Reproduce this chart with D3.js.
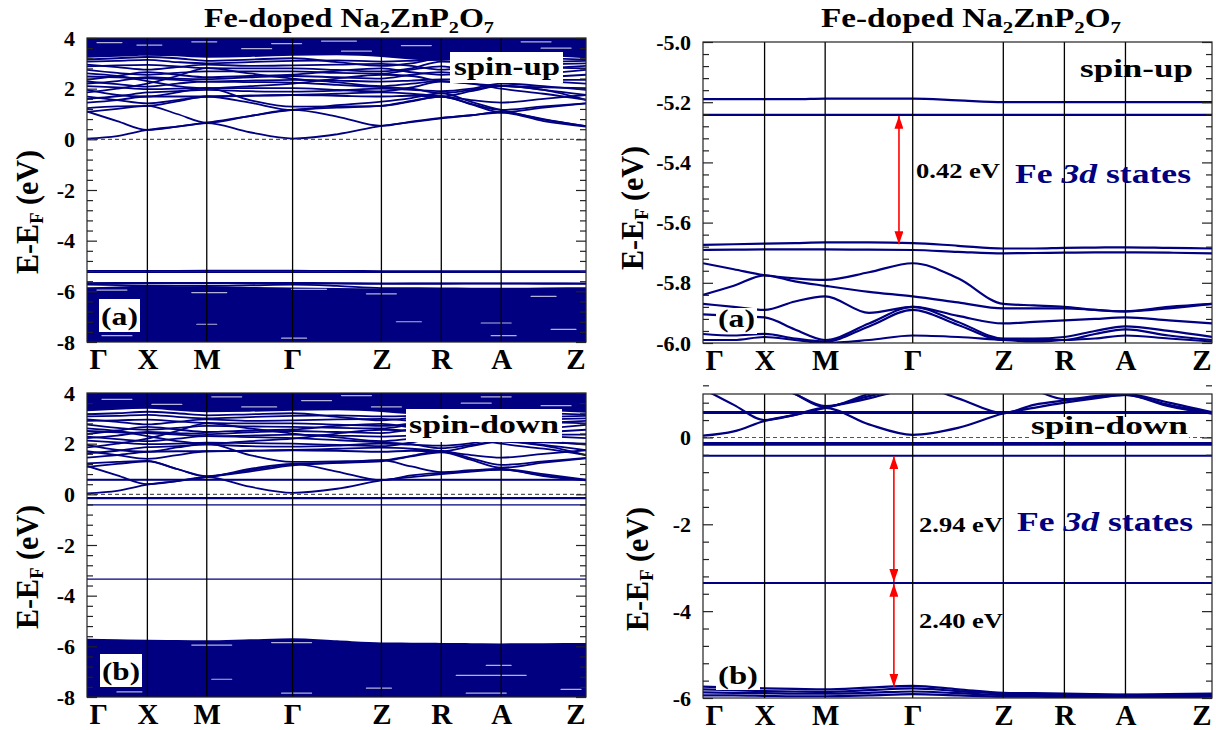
<!DOCTYPE html>
<html><head><meta charset="utf-8">
<script src="https://cdn.jsdelivr.net/npm/d3@7"></script>
<style>
body{margin:0;background:#fff}
svg{display:block}
text{font-family:"Liberation Serif","Times New Roman",serif;font-weight:bold}
</style>
</head><body>
<svg id="c" width="1216" height="730"></svg>
<script>
// ---------- k-path ----------
const kLabels = ["Γ","X","M","Γ","Z","R","A","Z"];
const kPos = [0, 0.121, 0.240, 0.412, 0.590, 0.710, 0.830, 1.0];

// ---------- y-axis ticks ----------
const yTicksWide = [-8,-6,-4,-2,0,2,4];
const yTicksUpZoom = [-6.0,-5.8,-5.6,-5.4,-5.2,-5.0];
const yTicksDnZoom = [-6,-4,-2,0];

// ---------- band energies (eV), sampled at Γ, ½, X, ½, M, ½, Γ, ½, Z, ½, R, ½, A, ½, Z ----------
const cbUp = [
 [0.03,0.13,0.37,0.50,0.64,0.28,0.03,0.20,0.53,0.68,0.83,0.95,1.06,0.72,0.50],
 [1.10,0.72,0.37,0.50,0.66,0.92,1.16,1.25,1.32,1.52,1.69,1.38,1.06,1.25,1.42],
 [1.23,1.30,1.32,1.50,1.69,1.45,1.16,1.35,1.49,1.63,1.82,1.48,1.16,0.80,0.52],
 [1.69,1.55,1.42,1.55,1.69,1.72,1.75,1.72,1.69,1.72,1.69,1.90,2.11,1.95,1.56],
 [1.95,1.75,1.69,1.85,2.02,1.55,1.29,1.30,1.32,1.50,1.69,1.40,1.16,1.30,1.42],
 [2.10,2.05,1.98,2.00,2.02,2.02,2.02,1.95,1.89,2.05,2.28,2.20,2.11,2.05,2.02],
 [2.28,2.18,2.08,2.20,2.28,2.26,2.24,2.15,2.06,2.00,1.82,1.95,2.11,1.95,1.75],
 [2.48,2.45,2.41,2.35,2.28,2.32,2.35,2.32,2.28,2.32,2.37,2.36,2.35,2.35,2.35],
 [2.74,2.62,2.55,2.62,2.68,2.68,2.68,2.62,2.59,2.75,2.88,2.70,2.50,2.60,2.74],
 [2.88,2.92,2.94,2.88,2.81,2.80,2.80,2.74,2.68,2.80,3.07,3.00,2.90,2.95,3.00],
 [3.07,3.10,3.14,3.05,3.00,3.05,3.10,3.12,3.07,3.10,3.15,3.20,3.25,3.20,3.15],
 [1.45,1.55,1.69,1.69,1.69,1.72,1.75,1.80,1.85,1.80,1.69,1.55,1.45,1.60,1.75],
 [1.85,2.00,2.20,2.50,2.81,2.60,2.40,2.25,2.10,2.20,2.30,2.20,2.00,1.80,1.56],
 [2.60,2.50,2.30,2.10,2.02,2.10,2.20,2.40,2.55,2.50,2.30,2.25,2.35,2.45,2.55],
 [1.08,1.20,1.32,1.00,0.66,0.92,1.16,0.90,0.53,0.70,0.85,0.95,1.08,0.78,0.52],
 [2.35,2.50,2.65,2.55,2.45,2.50,2.55,2.70,2.80,2.65,2.55,2.60,2.70,2.80,2.90],
 [2.95,2.85,2.75,2.85,2.95,2.90,2.92,2.95,2.98,2.90,2.75,2.85,2.95,2.85,2.80],
 [3.15,3.20,3.25,3.20,3.10,3.15,3.20,3.05,2.90,3.00,3.20,3.10,3.00,3.05,3.10],
 [2.20,2.30,2.45,2.40,2.38,2.45,2.50,2.45,2.40,2.55,2.65,2.50,2.40,2.30,2.20],
 [1.60,1.70,1.85,1.90,1.95,1.90,1.88,1.92,2.00,1.95,1.90,2.00,2.20,2.10,1.95]
];
const cbDn = [
 [0.04,0.14,0.38,0.52,0.68,0.30,0.06,0.22,0.55,0.68,0.80,0.90,0.98,0.72,0.55],
 [1.12,0.75,0.40,0.52,0.68,0.90,1.14,1.24,1.30,1.50,1.66,1.36,1.05,1.25,1.42],
 [1.22,1.28,1.32,1.00,0.70,1.00,1.20,0.90,0.56,0.75,0.85,0.92,0.98,0.75,0.56],
 [1.70,1.55,1.40,1.55,1.70,1.72,1.74,1.72,1.68,1.72,1.70,1.90,2.08,1.92,1.55],
 [1.95,1.75,1.68,1.85,2.00,1.55,1.28,1.30,1.34,1.52,1.70,1.42,1.16,1.30,1.44],
 [2.12,2.05,1.98,2.00,2.04,2.02,2.00,1.95,1.90,2.05,2.26,2.20,2.10,2.05,2.00],
 [2.28,2.18,2.10,2.20,2.30,2.26,2.22,2.14,2.05,1.98,1.82,1.95,2.10,1.95,1.74],
 [2.50,2.45,2.42,2.36,2.30,2.32,2.36,2.32,2.28,2.32,2.38,2.36,2.34,2.35,2.36],
 [2.75,2.62,2.55,2.62,2.70,2.68,2.66,2.62,2.60,2.75,2.86,2.70,2.50,2.60,2.74],
 [2.90,2.92,2.95,2.88,2.82,2.80,2.80,2.75,2.70,2.80,3.05,3.00,2.90,2.95,3.00],
 [3.08,3.10,3.14,3.06,3.00,3.05,3.10,3.12,3.08,3.10,3.15,3.20,3.25,3.20,3.15],
 [1.45,1.55,1.68,1.70,1.70,1.72,1.75,1.80,1.84,1.80,1.70,1.55,1.45,1.60,1.74],
 [1.85,2.00,2.20,2.50,2.80,2.60,2.40,2.25,2.10,2.20,2.30,2.20,2.00,1.80,1.55],
 [2.60,2.50,2.30,2.10,2.00,2.10,2.20,2.40,2.55,2.50,2.30,2.25,2.35,2.45,2.55],
 [1.08,1.20,1.30,1.00,0.72,0.95,1.18,1.25,1.35,1.10,0.88,0.95,1.00,0.80,0.58],
 [2.38,2.52,2.66,2.56,2.46,2.52,2.56,2.70,2.78,2.64,2.55,2.62,2.72,2.82,2.90],
 [2.96,2.86,2.76,2.86,2.96,2.90,2.92,2.96,2.98,2.90,2.76,2.86,2.96,2.86,2.80],
 [3.16,3.20,3.26,3.20,3.12,3.16,3.20,3.06,2.92,3.02,3.20,3.10,3.02,3.06,3.10],
 [2.22,2.32,2.46,2.42,2.38,2.45,2.50,2.46,2.42,2.56,2.66,2.52,2.40,2.30,2.22],
 [1.62,1.72,1.86,1.90,1.96,1.90,1.88,1.92,2.00,1.96,1.92,2.02,2.20,2.10,1.96]
];
const vbUp = [
 [-5.735,-5.755,-5.775,-5.785,-5.790,-5.765,-5.735,-5.785,-5.870,-5.875,-5.880,-5.890,-5.895,-5.885,-5.870],
 [-5.840,-5.810,-5.775,-5.795,-5.810,-5.830,-5.845,-5.865,-5.885,-5.885,-5.885,-5.890,-5.895,-5.880,-5.870],
 [-5.870,-5.880,-5.890,-5.862,-5.845,-5.900,-5.880,-5.910,-5.935,-5.930,-5.925,-5.920,-5.915,-5.925,-5.935],
 [-5.905,-5.910,-5.915,-5.955,-5.990,-5.935,-5.880,-5.930,-5.985,-5.985,-5.980,-5.960,-5.945,-5.960,-5.980],
 [-5.970,-5.975,-5.970,-5.985,-5.995,-5.945,-5.890,-5.940,-5.990,-5.990,-5.990,-5.970,-5.955,-5.975,-5.990],
 [-5.990,-5.990,-5.980,-5.990,-6.000,-5.990,-5.975,-5.980,-5.990,-5.995,-5.990,-5.985,-5.975,-5.985,-5.995]
];
const vbDn = [
 [-5.74,-5.76,-5.78,-5.79,-5.80,-5.76,-5.72,-5.80,-5.88,-5.89,-5.90,-5.91,-5.92,-5.91,-5.90],
 [-5.80,-5.82,-5.84,-5.85,-5.86,-5.82,-5.78,-5.84,-5.90,-5.91,-5.92,-5.93,-5.93,-5.93,-5.92],
 [-5.87,-5.88,-5.89,-5.90,-5.90,-5.88,-5.85,-5.89,-5.93,-5.94,-5.94,-5.95,-5.95,-5.95,-5.94],
 [-5.94,-5.94,-5.95,-5.96,-5.96,-5.94,-5.91,-5.94,-5.97,-5.97,-5.98,-5.98,-5.98,-5.98,-5.97]
];
// Fe 3d states
const feUp = [
 [-5.190,-5.190,-5.190,-5.190,-5.188,-5.188,-5.188,-5.194,-5.200,-5.200,-5.200,-5.200,-5.200,-5.200,-5.200],
 [-5.242,-5.242,-5.242,-5.242,-5.242,-5.242,-5.242,-5.242,-5.242,-5.242,-5.242,-5.242,-5.242,-5.242,-5.242],
 [-5.674,-5.672,-5.670,-5.668,-5.666,-5.666,-5.668,-5.677,-5.686,-5.686,-5.684,-5.683,-5.682,-5.684,-5.686],
 [-5.691,-5.690,-5.689,-5.689,-5.689,-5.690,-5.691,-5.697,-5.702,-5.701,-5.700,-5.699,-5.699,-5.700,-5.702]
];
const feDn = [0.56, 0.585, -0.13, -0.17, -0.42, -3.35];
// upper edge of the dense conduction manifold
const topEdgeUp = [3.22,3.26,3.30,3.28,3.22,3.25,3.30,3.32,3.25,3.15,3.10,3.20,3.35,3.30,3.20];
const topEdgeDn = [3.28,3.34,3.38,3.30,3.24,3.26,3.30,3.32,3.25,3.16,3.12,3.22,3.35,3.30,3.22];
// light gaps inside dense manifolds: [k start, k end, energy]
const gapsUp = [
 [0.02,0.07,3.82],[0.10,0.15,3.72],[0.21,0.26,3.85],[0.31,0.37,3.58],[0.37,0.43,3.78],[0.47,0.54,3.88],
 [0.51,0.57,3.48],[0.63,0.69,3.70],[0.87,0.93,3.85],[0.91,0.97,3.60],
 [0.02,0.08,-5.95],[0.21,0.28,-6.05],[0.41,0.48,-5.92],[0.56,0.62,-6.10],
 [0.03,0.09,-7.75],[0.22,0.26,-7.30],[0.39,0.44,-7.85],[0.62,0.67,-7.20],[0.79,0.85,-7.25],
 [0.81,0.86,-7.75],[0.93,0.98,-7.50],[0.89,0.94,-6.20]
];
const gapsDn = [
 [0.03,0.09,3.75],[0.13,0.19,3.55],[0.25,0.31,3.85],[0.31,0.38,3.45],[0.43,0.49,3.70],[0.51,0.57,3.90],
 [0.57,0.63,3.45],[0.75,0.81,3.60],[0.79,0.85,3.85],[0.91,0.97,3.50],
 [0.21,0.29,-5.95],[0.37,0.45,-5.85],[0.25,0.29,-7.30],[0.74,0.88,-7.15],
 [0.56,0.61,-7.65],[0.39,0.45,-7.85],[0.76,0.84,-7.85],[0.80,0.85,-6.75],[0.95,0.99,-7.70],[0.06,0.11,-7.80]
];
// energy gaps marked with arrows
const arrowsUp = [[-5.245,-5.672]];
const arrowsDn = [[-0.43,-3.33],[-3.37,-5.74]];
const gapLabelsUp = ["0.42 eV"];
const gapLabelsDn = ["2.94 eV","2.40 eV"];

// ---------- drawing ----------
const navy = "#000080";
const svg = d3.select("#c");
const defs = svg.append("defs");
defs.append("marker").attr("id","ah").attr("viewBox","0 0 10 10").attr("refX",10).attr("refY",5)
  .attr("markerUnits","userSpaceOnUse").attr("markerWidth",13).attr("markerHeight",9)
  .attr("preserveAspectRatio","none").attr("orient","auto-start-reverse")
  .append("path").attr("d","M0,0L10,5L0,10Z").attr("fill","#ff0000");

const kS = [];
kPos.forEach((k,i)=>{ if(i>0) kS.push((kPos[i-1]+k)/2); kS.push(k); });

const spins = {
  up:{cb:cbUp, vb:vbUp, fe:feUp, flat:[], edge:topEdgeUp, gaps:gapsUp, arrows:arrowsUp, alabels:gapLabelsUp, fillBand:1},
  dn:{cb:cbDn, vb:vbDn, fe:[], flat:feDn, edge:topEdgeDn, gaps:gapsDn, arrows:arrowsDn, alabels:gapLabelsDn, fillBand:0}
};

const panels = [
 {x0:87,x1:586,y0:38,y1:342,dom:[-8,4],ticks:yTicksWide,minor:0.4,fmt:d=>String(d),spin:"up",wide:true,lw:1.8,
  title:{x:349,y:27,len:290}, ylab:{x:38,y:212},
  labels:[{t:"spin-up",x:454,y:75,len:106,box:[450,52,113,31]},{t:"(a)",x:101,y:325,len:37,box:[99,299,41,33]}]},
 {x0:87,x1:586,y0:393,y1:697,dom:[-8,4],ticks:yTicksWide,minor:0.4,fmt:d=>String(d),spin:"dn",wide:true,lw:1.8,
  ylab:{x:38,y:567},
  labels:[{t:"spin-down",x:409,y:433,len:150,box:[406,409,156,33]},{t:"(b)",x:102,y:680,len:38,box:[100,654,42,33]}]},
 {x0:703,x1:1212,y0:42,y1:343,dom:[-6,-5],ticks:yTicksUpZoom,minor:0.04,fmt:d=>d.toFixed(1),spin:"up",wide:false,lw:2.2,
  title:{x:971,y:27,len:300}, ylab:{x:643,y:208}, arrowK:0.385,
  alabelPos:[{x:916,y:178}], fe:{x:1015,y:183},
  labels:[{t:"spin-up",x:1080,y:77,len:113,box:null},{t:"(a)",x:718,y:327,len:37,box:[716,308,41,26]}]},
 {x0:703,x1:1212,y0:394,y1:698,dom:[-6,1],ticks:yTicksDnZoom,minor:0.4,fmt:d=>String(d),spin:"dn",wide:false,lw:2.2,
  ylab:{x:648,y:569}, arrowK:0.375,
  alabelPos:[{x:919,y:532},{x:919,y:628}], fe:{x:1017,y:531},
  labels:[{t:"spin-down",x:1031,y:434,len:157,box:[1029,417,160,24]},{t:"(b)",x:718,y:684,len:40,box:[716,665,44,25]}]}
];

function sty(sel){ sel.attr("font-family",null).attr("font-size",null); return sel; }

panels.forEach((p,pi)=>{
  const S = spins[p.spin];
  const x = d3.scaleLinear().domain([0,1]).range([p.x0,p.x1]);
  const y = d3.scaleLinear().domain(p.dom).range([p.y1,p.y0]);
  const g = svg.append("g");
  defs.append("clipPath").attr("id","cl"+pi).append("rect")
    .attr("x",p.x0).attr("y",p.y0).attr("width",p.x1-p.x0).attr("height",p.y1-p.y0);
  const c = g.append("g").attr("clip-path",`url(#cl${pi})`);
  const line = d3.line().x((d,i)=>x(kS[i])).y(d=>y(d)).curve(d3.curveMonotoneX);

  if(p.wide){
    const areaLow = d3.area().x((d,i)=>x(kS[i])).y0(y(p.dom[0]-1)).y1(d=>y(d)).curve(d3.curveMonotoneX);
    const areaTop = d3.area().x((d,i)=>x(kS[i])).y0(y(p.dom[1]+1)).y1(d=>y(d)).curve(d3.curveMonotoneX);
    c.append("path").attr("d",areaLow(S.vb[S.fillBand])).attr("fill",navy);
    c.append("path").attr("d",areaTop(S.edge)).attr("fill",navy);
  }
  const bands = S.cb.concat(p.wide ? S.vb.slice(0,1) : S.vb, S.fe);
  c.selectAll("path.band").data(bands).join("path").attr("class","band")
    .attr("d",line).attr("fill","none").attr("stroke",navy).attr("stroke-width",p.lw);
  if(p.wide){
    c.selectAll("line.gap").data(S.gaps).join("line").attr("class","gap")
      .attr("x1",d=>x(d[0])).attr("x2",d=>x(d[1])).attr("y1",d=>y(d[2])).attr("y2",d=>y(d[2]))
      .attr("stroke","#fff").attr("stroke-width",1.2).attr("stroke-linecap","round").attr("opacity",0.7);
  }
  c.selectAll("line.flat").data(S.flat).join("line").attr("class","flat")
    .attr("x1",x(0)).attr("x2",x(1)).attr("y1",d=>y(d)).attr("y2",d=>y(d))
    .attr("stroke",navy).attr("stroke-width",p.wide?1.3:2);
  if(p.dom[0]<0 && p.dom[1]>0){
    c.append("line").attr("x1",x(0)).attr("x2",x(1)).attr("y1",y(0)).attr("y2",y(0))
      .attr("stroke","#555").attr("stroke-width",1.1).attr("stroke-dasharray","4,3");
  }
  c.selectAll("line.hs").data(kPos.slice(1,-1)).join("line").attr("class","hs")
    .attr("x1",d=>x(d)).attr("x2",d=>x(d)).attr("y1",p.y0).attr("y2",p.y1)
    .attr("stroke","#000").attr("stroke-width",1.3);

  if(p.arrowK!==undefined){
    c.selectAll("line.arr").data(S.arrows).join("line").attr("class","arr")
      .attr("x1",x(p.arrowK)).attr("x2",x(p.arrowK)).attr("y1",d=>y(d[0])).attr("y2",d=>y(d[1]))
      .attr("stroke","#ff0000").attr("stroke-width",1.6)
      .attr("marker-start","url(#ah)").attr("marker-end","url(#ah)");
  }

  g.append("rect").attr("x",p.x0).attr("y",p.y0).attr("width",p.x1-p.x0).attr("height",p.y1-p.y0)
    .attr("fill","none").attr("stroke","#222").attr("stroke-width",1.2);

  const n = Math.round((p.dom[1]-p.dom[0])/p.minor);
  const minor = d3.range(n+1).map(i=>+(p.dom[0]+i*p.minor).toFixed(4))
    .filter(v=>!p.ticks.some(t=>Math.abs(t-v)<1e-6));
  const ax = (axis,size,fmt,vals,xpos)=>{
    const a = g.append("g").attr("transform",`translate(${xpos},0)`)
      .call(axis(y).tickValues(vals).tickSize(size).tickPadding(12).tickFormat(fmt));
    sty(a); a.select(".domain").remove();
    a.selectAll("line").attr("stroke","#222").attr("stroke-width",1.2);
    return a;
  };
  const la = ax(d3.axisLeft,-10,p.fmt,p.ticks,p.x0);
  la.selectAll("text").attr("font-size",22).attr("fill","#000");
  ax(d3.axisLeft,-6,()=>"",minor,p.x0);
  ax(d3.axisRight,-10,()=>"",p.ticks,p.x1);
  ax(d3.axisRight,-6,()=>"",minor,p.x1);

  const xa = g.append("g").attr("transform",`translate(0,${p.y1})`)
    .call(d3.axisBottom(x).tickValues(kPos).tickSize(0).tickFormat((d,i)=>kLabels[i]));
  sty(xa); xa.select(".domain").remove();
  xa.selectAll("text").attr("font-size",29).attr("fill","#000").attr("y",27).attr("dy",0);
  xa.selectAll(".tick").filter((d,i)=>i===0).select("text").attr("text-anchor","start").attr("x",2);
  xa.selectAll(".tick").filter((d,i)=>i===kPos.length-1).select("text").attr("text-anchor","end").attr("x",-1);

  const yl = g.append("text").attr("transform",`translate(${p.ylab.x},${p.ylab.y}) rotate(-90)`)
    .attr("text-anchor","middle").attr("font-size",31).attr("textLength",124).attr("lengthAdjust","spacingAndGlyphs");
  yl.append("tspan").text("E-E");
  yl.append("tspan").attr("font-size",19).attr("dy",5).text("F");
  yl.append("tspan").attr("dy",-5).text(" (eV)");

  if(p.title){
    const t = g.append("text").attr("x",p.title.x).attr("y",p.title.y).attr("text-anchor","middle")
      .attr("font-size",27).attr("textLength",p.title.len).attr("lengthAdjust","spacingAndGlyphs");
    [["Fe-doped Na",0],["2",1],["ZnP",0],["2",1],["O",0],["7",1]].forEach(([s,sub],i)=>{
      const ts = t.append("tspan").text(s);
      if(sub){ ts.attr("font-size",17).attr("dy",6); }
      else if(i>0){ ts.attr("dy",-6); }
    });
  }

  p.labels.forEach(L=>{
    if(L.box) g.append("rect").attr("x",L.box[0]).attr("y",L.box[1]).attr("width",L.box[2]).attr("height",L.box[3]).attr("fill","#fff");
    g.append("text").attr("x",L.x).attr("y",L.y).attr("font-size",26).attr("fill","#000")
      .attr("textLength",L.len).attr("lengthAdjust","spacingAndGlyphs").text(L.t);
  });

  if(p.alabelPos){
    p.alabelPos.forEach((pos,i)=>{
      g.append("text").attr("x",pos.x).attr("y",pos.y).attr("font-size",21).attr("fill","#000")
        .attr("textLength",84).attr("lengthAdjust","spacingAndGlyphs").text(S.alabels[i]);
    });
    const f = g.append("text").attr("x",p.fe.x).attr("y",p.fe.y).attr("font-size",27).attr("fill",navy)
      .attr("textLength",176).attr("lengthAdjust","spacingAndGlyphs");
    f.append("tspan").text("Fe ");
    f.append("tspan").attr("font-style","italic").text("3d");
    f.append("tspan").text(" states");
  }
});
</script>
</body></html>
